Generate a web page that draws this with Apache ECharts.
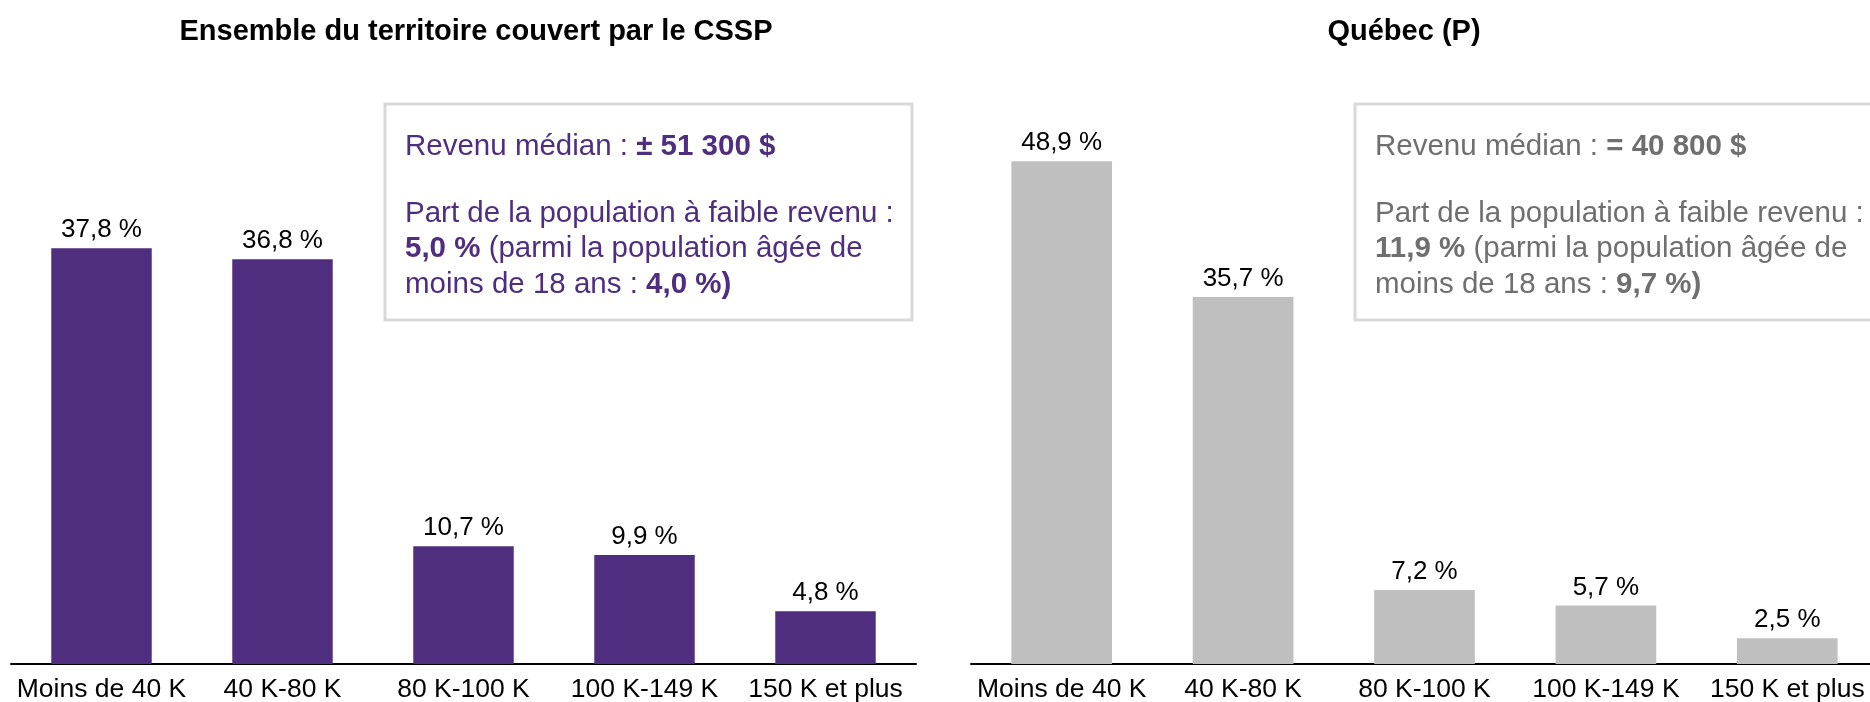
<!DOCTYPE html>
<html>
<head>
<meta charset="utf-8">
<script src="https://cdn.jsdelivr.net/npm/echarts@6/dist/echarts.min.js"></script>
<style>
  html, body { margin: 0; padding: 0; background: #fff; }
  #chart { width: 1870px; height: 702px; }
</style>
</head>
<body>
<div id="chart"></div>
<script>
// données
const categories = ['Moins de 40 K', '40 K-80 K', '80 K-100 K', '100 K-149 K', '150 K et plus'];
const csspValues = [37.8, 36.8, 10.7, 9.9, 4.8];
const quebecValues = [48.9, 35.7, 7.2, 5.7, 2.5];

const csspTitle = 'Ensemble du territoire couvert par le CSSP';
const quebecTitle = 'Québec (P)';

const csspMedian = 'Revenu médian : {b|± 51 300 $}';
const csspLowIncome = [
  'Part de la population à faible revenu :',
  '{b|5,0 %} (parmi la population âgée de',
  'moins de 18 ans : {b|4,0 %)}'
];
const quebecMedian = 'Revenu médian : {b|= 40 800 $}';
const quebecLowIncome = [
  'Part de la population à faible revenu :',
  '{b|11,9 %} (parmi la population âgée de',
  'moins de 18 ans : {b|9,7 %)}'
];

const FONT = '"Liberation Sans", Arial, sans-serif';
const PURPLE = '#4f2d7f';
const GREY_BAR = '#bfbfbf';
const GREY_TEXT = '#6f6f6f';
const BOX_FS = 29.5;
const BOX_LH = 35.5;

const fmt = p => p.value.toFixed(1).replace('.', ',') + ' %';

function boxText(x, y, text, color) {
  return {
    type: 'text',
    x: x,
    y: y,
    style: {
      text: text,
      fill: color,
      fontSize: BOX_FS,
      fontFamily: FONT,
      lineHeight: BOX_LH,
      verticalAlign: 'top',
      rich: {
        b: { fontWeight: 'bold', fontSize: BOX_FS, fontFamily: FONT, fill: color, lineHeight: BOX_LH }
      }
    }
  };
}

function infoBox(x, y, w, h, median, lowIncome, color) {
  return {
    type: 'group',
    children: [
      {
        type: 'rect',
        shape: { x: x, y: y, width: w, height: h },
        style: { fill: '#fff', stroke: '#d9d9d9', lineWidth: 3 }
      },
      boxText(x + 20, y + 25, median, color),
      boxText(x + 20, y + 92, lowIncome.join('\n'), color)
    ]
  };
}

const chart = echarts.init(document.getElementById('chart'));

const xAxisBase = {
  type: 'category',
  data: categories,
  axisLine: { lineStyle: { color: '#000', width: 2 } },
  axisTick: { show: false },
  axisLabel: { color: '#000', fontSize: 26.5, fontFamily: FONT, margin: 12, interval: 0 }
};
const yAxisBase = { type: 'value', min: 0, max: 50, show: false, splitLine: { show: false } };

const labelBase = { show: true, position: 'top', distance: 5, fontSize: 26, fontFamily: FONT, color: '#000', formatter: fmt };

chart.setOption({
  animation: false,
  backgroundColor: '#fff',
  title: [
    { text: csspTitle, left: 471, top: 12, textAlign: 'center',
      textStyle: { fontSize: 29, fontWeight: 'bold', fontFamily: FONT, color: '#000' } },
    { text: quebecTitle, left: 1399, top: 12, textAlign: 'center',
      textStyle: { fontSize: 29, fontWeight: 'bold', fontFamily: FONT, color: '#000' } }
  ],
  grid: [
    { left: 11, width: 905, top: 114, bottom: 38, outerBoundsMode: 'none' },
    { left: 971, width: 907, top: 150, bottom: 38, outerBoundsMode: 'none' }
  ],
  xAxis: [
    Object.assign({ gridIndex: 0 }, xAxisBase),
    Object.assign({ gridIndex: 1 }, xAxisBase)
  ],
  yAxis: [
    Object.assign({ gridIndex: 0 }, yAxisBase),
    Object.assign({ gridIndex: 1 }, yAxisBase)
  ],
  series: [
    {
      name: 'CSSP', type: 'bar', xAxisIndex: 0, yAxisIndex: 0,
      data: csspValues, barWidth: '55.5%',
      itemStyle: { color: PURPLE },
      label: labelBase
    },
    {
      name: 'Québec', type: 'bar', xAxisIndex: 1, yAxisIndex: 1,
      data: quebecValues, barWidth: '55.5%',
      itemStyle: { color: GREY_BAR },
      label: labelBase
    }
  ],
  graphic: [
    infoBox(385, 104, 527, 216, csspMedian, csspLowIncome, PURPLE),
    infoBox(1355, 104, 560, 216, quebecMedian, quebecLowIncome, GREY_TEXT)
  ]
});

window.addEventListener('resize', chart.resize);
</script>
</body>
</html>
